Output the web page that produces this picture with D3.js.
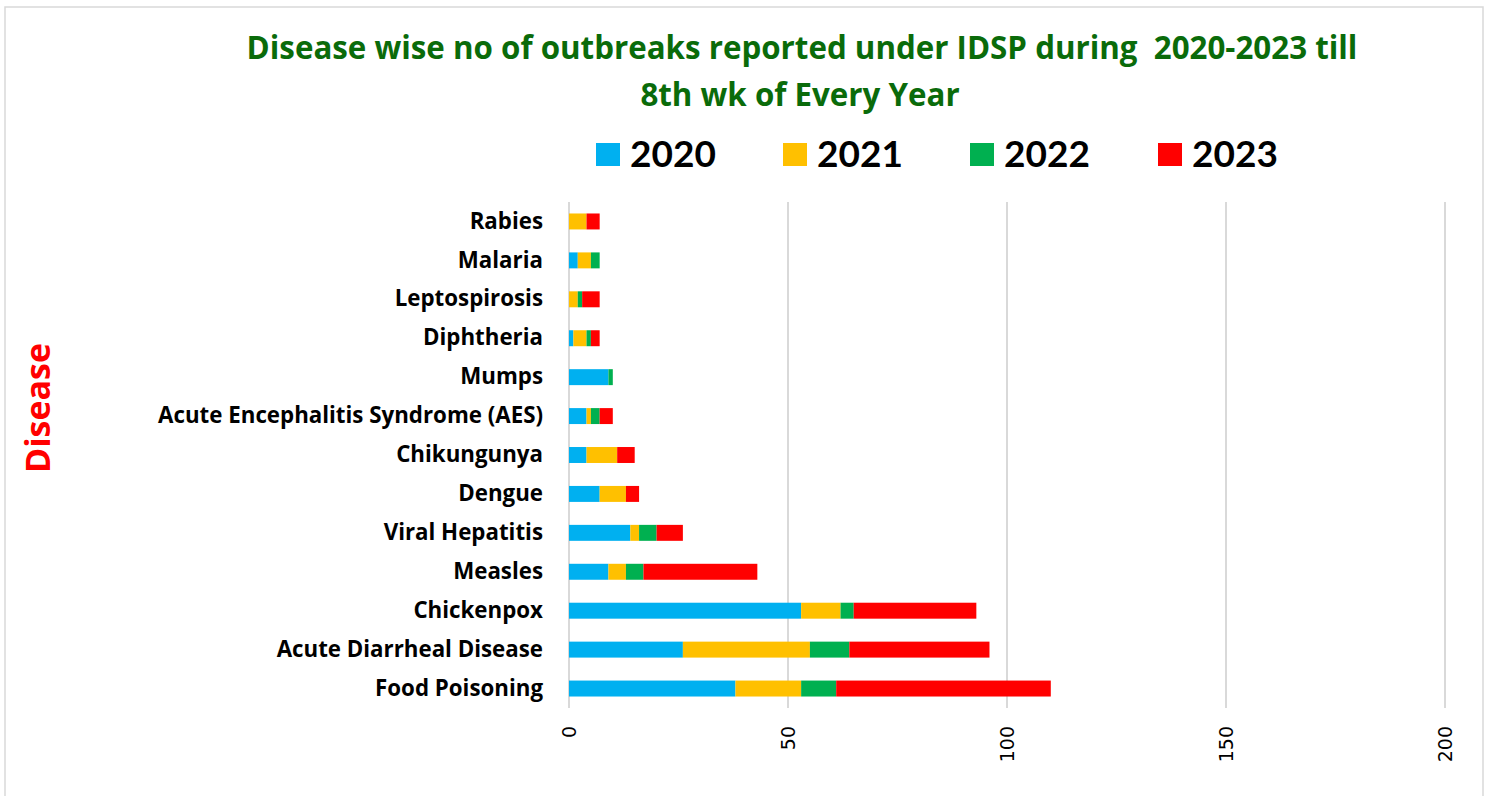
<!DOCTYPE html>
<html>
<head>
<meta charset="utf-8">
<script src="https://cdn.jsdelivr.net/npm/d3@7"></script>
<style>
  body { margin: 0; background: #fff; }
  svg { display: block; }
</style>
</head>
<body>
<div id="chart"></div>
<script>
var svgWidth = 1488;
var svgHeight = 796;

var margin = { top: 202, right: 43, bottom: 88, left: 569 };
var width = svgWidth - margin.left - margin.right;
var height = svgHeight - margin.top - margin.bottom;

// data, bottom row first as in the original
var diseases = ["Food Poisoning", "Acute Diarrheal Disease", "Chickenpox", "Measles",
  "Viral Hepatitis", "Dengue", "Chikungunya", "Acute Encephalitis Syndrome (AES)",
  "Mumps", "Diphtheria", "Leptospirosis", "Malaria", "Rabies"];
var years = ["2020", "2021", "2022", "2023"];
var colors = ["#00B0F0", "#FFC000", "#00B050", "#FF0000"];
var v2020 = [38, 26, 53, 9, 14, 7, 4, 4, 9, 1, 0, 2, 0];
var v2021 = [15, 29, 9, 4, 2, 6, 7, 1, 0, 3, 2, 3, 4];
var v2022 = [8, 9, 3, 4, 4, 0, 0, 2, 1, 1, 1, 2, 0];
var v2023 = [49, 32, 28, 26, 6, 3, 4, 3, 0, 2, 4, 0, 3];
var xTicks = [0, 50, 100, 150, 200];

var rows = diseases.map(function(d, i) {
  return { disease: d, "2020": v2020[i], "2021": v2021[i], "2022": v2022[i], "2023": v2023[i] };
});

var svg = d3.select("#chart").append("svg")
  .attr("width", svgWidth)
  .attr("height", svgHeight);

// chart frame
svg.append("rect")
  .attr("x", 5).attr("y", 7)
  .attr("width", 1478).attr("height", 800)
  .attr("fill", "none")
  .attr("stroke", "#d9d9d9")
  .attr("stroke-width", 1.5);

var chartGroup = svg.append("g")
  .attr("transform", `translate(${margin.left}, ${margin.top})`);

var xScale = d3.scaleLinear().domain([0, 200]).range([0, width]);
var yScale = d3.scaleBand()
  .domain(diseases.slice().reverse())
  .range([0, height])
  .paddingInner(0.59)
  .paddingOuter(0.295);

// gridlines
chartGroup.selectAll(".grid")
  .data(xTicks)
  .enter()
  .append("line")
  .attr("x1", d => xScale(d)).attr("x2", d => xScale(d))
  .attr("y1", 0).attr("y2", height)
  .attr("stroke", "#d9d9d9")
  .attr("stroke-width", 2);

// stacked bars
var stacked = d3.stack().keys(years)(rows);
chartGroup.selectAll(".series")
  .data(stacked)
  .enter()
  .append("g")
  .attr("fill", (d, i) => colors[i])
  .selectAll("rect")
  .data(d => d)
  .enter()
  .append("rect")
  .attr("x", d => xScale(d[0]))
  .attr("y", d => yScale(d.data.disease))
  .attr("width", d => xScale(d[1]) - xScale(d[0]))
  .attr("height", yScale.bandwidth());

// x axis with rotated tick labels
var xAxis = chartGroup.append("g")
  .attr("transform", `translate(0, ${height})`)
  .call(d3.axisBottom(xScale).tickValues(xTicks).tickSize(0).tickPadding(0));
xAxis.select(".domain").remove();
xAxis.selectAll("text")
  .attr("transform", "rotate(-90)")
  .attr("x", -18)
  .attr("y", 0)
  .attr("dy", "0.35em")
  .attr("text-anchor", "end")
  .attr("font-family", "DejaVu Sans, sans-serif")
  .attr("font-size", "19px")
  .attr("fill", "#000");

// y axis category labels
var yAxis = chartGroup.append("g")
  .call(d3.axisLeft(yScale).tickSize(0).tickPadding(26));
yAxis.select(".domain").remove();
yAxis.selectAll("text")
  .attr("font-family", "Open Sans, sans-serif")
  .attr("font-weight", "bold")
  .attr("font-size", "22.3px")
  .attr("fill", "#000");

// title
var title = svg.append("text")
  .attr("text-anchor", "middle")
  .attr("font-family", "Open Sans, sans-serif")
  .attr("font-weight", "bold")
  .attr("font-size", "31.3px")
  .attr("fill", "#0A6B0A");
title.append("tspan").attr("x", 802).attr("y", 59)
  .text("Disease wise no of outbreaks reported under IDSP during  2020-2023 till")
  .style("white-space", "pre");
title.append("tspan").attr("x", 800).attr("y", 106).text("8th wk of Every Year");

// legend
var legendX = [596, 783, 970, 1158];
var legend = svg.selectAll(".legend")
  .data(years)
  .enter()
  .append("g")
  .attr("transform", (d, i) => `translate(${legendX[i]}, 143)`);
legend.append("rect")
  .attr("width", 24).attr("height", 23)
  .attr("fill", (d, i) => colors[i]);
legend.append("text")
  .attr("x", 34).attr("y", 24)
  .attr("font-family", "Lato, sans-serif")
  .attr("font-weight", "bold")
  .attr("font-size", "37px")
  .attr("fill", "#000")
  .text(d => d);

// axis title
svg.append("text")
  .attr("transform", "translate(50, 408) rotate(-90)")
  .attr("text-anchor", "middle")
  .attr("font-family", "Open Sans, sans-serif")
  .attr("font-weight", "bold")
  .attr("font-size", "34px")
  .attr("fill", "#FF0000")
  .text("Disease");
</script>
</body>
</html>
